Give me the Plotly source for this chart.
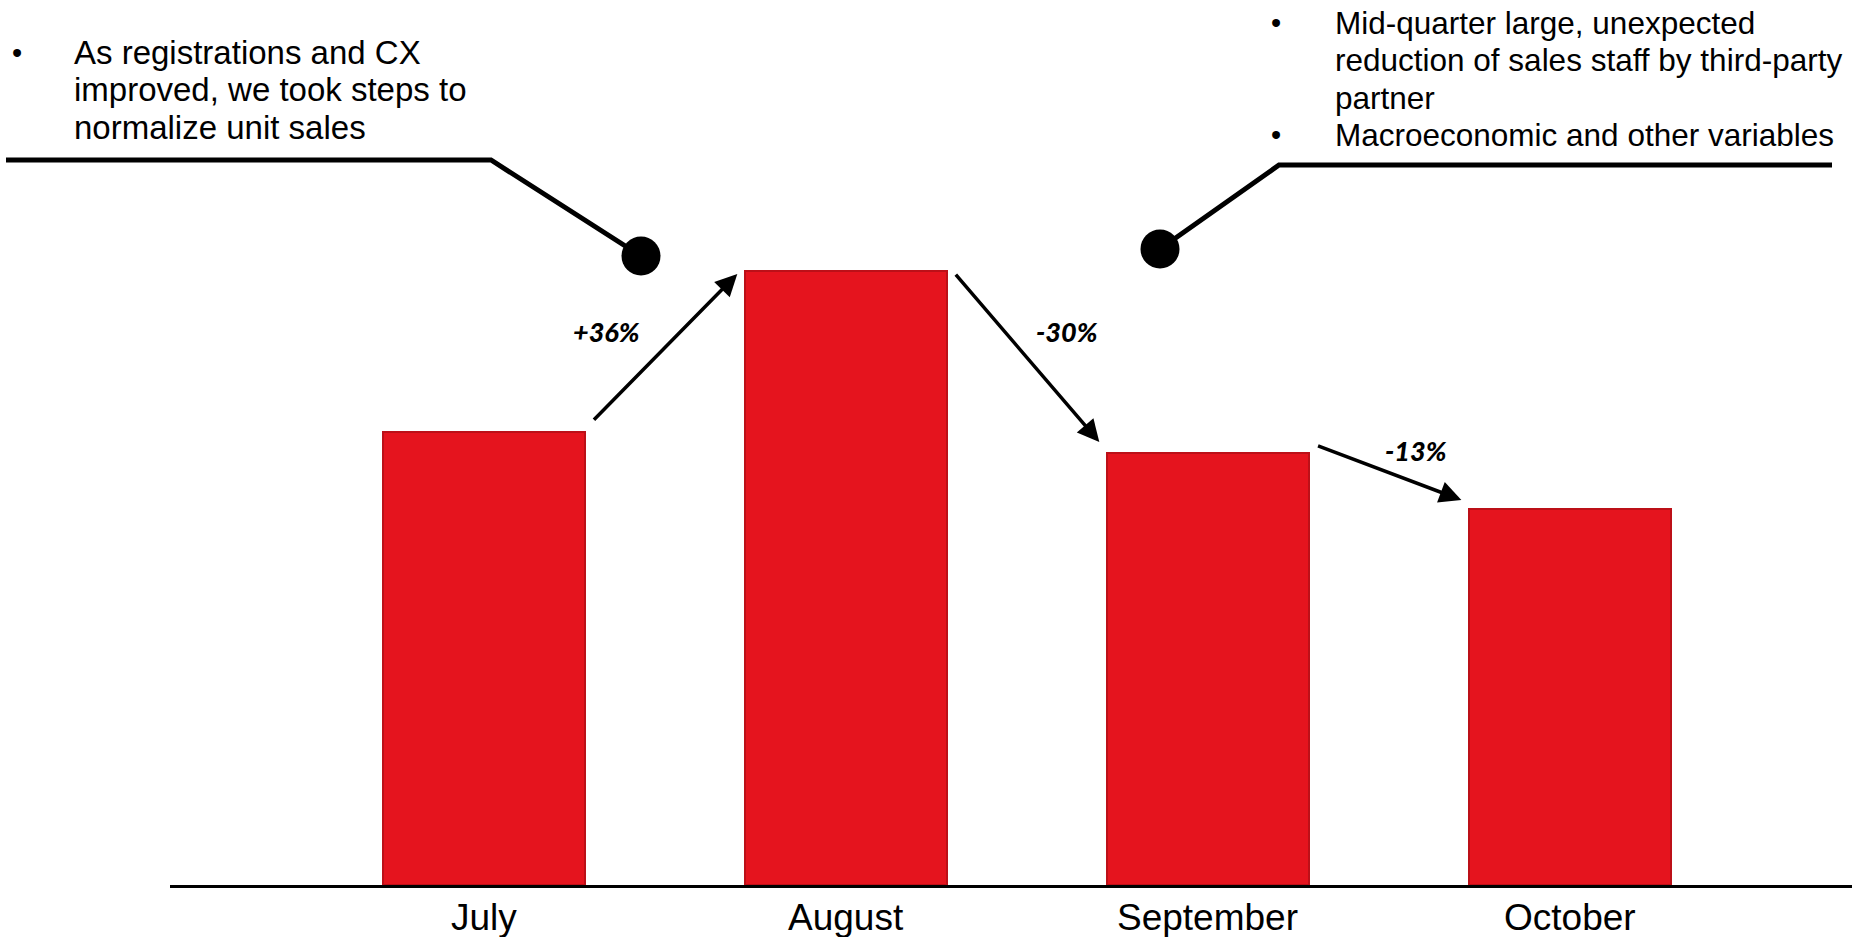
import plotly.graph_objects as go

# ---------------- data ----------------
months = ["July", "August", "September", "October"]
unit_sales = [100, 135.6, 95.4, 83.0]          # indexed (July = 100)
change_labels = ["+36%", "-30%", "-13%"]

left_note = ["As registrations and CX", "improved, we took steps to", "normalize unit sales"]
right_note_1 = ["Mid-quarter large, unexpected", "reduction of sales staff by third-party", "partner"]
right_note_2 = ["Macroeconomic and other variables"]

# ---------------- layout geometry ----------------
W, H = 1856, 937
ML, MR, MT, MB = 170, 4, 0, 52
PW, PH = W - ML - MR, H - MT - MB
XR = [-0.867, 3.779]
YR = [0, 195.4]

def px_x(px):
    return (px - ML) / PW

def px_y(py):
    return (H - MB - py) / PH

FONT = "Liberation Sans, Arial, sans-serif"
RED = "rgb(229,20,30)"
RED_EDGE = "rgb(188,16,24)"

fig = go.Figure()
fig.add_trace(go.Bar(
    x=list(range(len(months))), y=unit_sales, width=0.558,
    marker=dict(color=RED, line=dict(color=RED_EDGE, width=2)),
    hoverinfo="skip", showlegend=False,
))

annotations = []

# category labels under the axis (placed on the x scale)
for i, m in enumerate(months):
    annotations.append(dict(
        x=i, y=px_y(917), xref="x", yref="paper", text=m, showarrow=False,
        xanchor="center", yanchor="middle",
        font=dict(family=FONT, size=37, color="black"),
    ))

# arrows between bars (tail just right of bar i, tip just left of bar i+1)
arrow_dy = [(2.4, -0.7), (-0.5, 2.4), (1.7, 2.0)]
label_pos = [(0.34, 122.3), (1.61, 122.3), (2.575, 96.0)]
for i in range(len(months) - 1):
    dt, dh = arrow_dy[i]
    annotations.append(dict(
        x=i + 1 - 0.30, y=unit_sales[i + 1] + dh, xref="x", yref="y",
        ax=i + 0.30, ay=unit_sales[i] + dt, axref="x", ayref="y",
        text="", showarrow=True, arrowhead=2, arrowsize=1.25, arrowwidth=3.5,
        arrowcolor="black", standoff=0, startstandoff=0,
    ))
    lx, ly = label_pos[i]
    annotations.append(dict(
        x=lx, y=ly, xref="x", yref="y", text=change_labels[i],
        showarrow=False,
        font=dict(family="Lato, Roboto, sans-serif", size=27, color="black",
                  weight=900, style="italic"),
        xanchor="center", yanchor="middle",
    ))

# callout texts
def add_lines(lines, x_text, y_centers, bullet_idx, x_bullet, size):
    for k, (txt, yc) in enumerate(zip(lines, y_centers)):
        annotations.append(dict(
            x=px_x(x_text), y=px_y(yc), xref="paper", yref="paper", text=txt,
            showarrow=False, xanchor="left", yanchor="middle",
            font=dict(family=FONT, size=size, color="black"),
        ))
        if k in bullet_idx:
            annotations.append(dict(
                x=px_x(x_bullet), y=px_y(yc), xref="paper", yref="paper", text="•",
                showarrow=False, xanchor="center", yanchor="middle",
                font=dict(family=FONT, size=29, color="black"),
            ))

add_lines(left_note, 72, [53, 90, 127], {0}, 17, 33)
add_lines(right_note_1 + right_note_2, 1333, [23, 60, 98, 135], {0, 3}, 1276, 31.5)

# callout leader lines and dots
shapes = []
def path(points):
    return "M " + " L ".join(f"{px_x(x):.5f},{px_y(y):.5f}" for x, y in points)

shapes.append(dict(type="path", xref="paper", yref="paper",
                   path=path([(6, 160), (491, 160), (641, 256)]),
                   line=dict(color="black", width=5)))
shapes.append(dict(type="path", xref="paper", yref="paper",
                   path=path([(1832, 165), (1279, 165), (1160, 249)]),
                   line=dict(color="black", width=5)))
for cx, cy in [(641, 256), (1160, 249)]:
    shapes.append(dict(type="circle", xref="paper", yref="paper",
                       xsizemode="pixel", ysizemode="pixel",
                       xanchor=px_x(cx), yanchor=px_y(cy),
                       x0=-19.5, x1=19.5, y0=-19.5, y1=19.5,
                       fillcolor="black", line=dict(color="black", width=0)))

fig.update_layout(
    width=W, height=H,
    margin=dict(l=ML, r=MR, t=MT, b=MB, pad=0, autoexpand=False),
    paper_bgcolor="white", plot_bgcolor="white",
    xaxis=dict(range=XR, tickmode="array", tickvals=list(range(len(months))),
               showticklabels=False, showgrid=False, zeroline=False, automargin=False,
               showline=True, linecolor="black", linewidth=3, ticks=""),
    yaxis=dict(range=YR, visible=False, showgrid=False, zeroline=False,
               automargin=False),
    annotations=annotations, shapes=shapes,
    bargap=0,
)

fig.write_html("out.html")
